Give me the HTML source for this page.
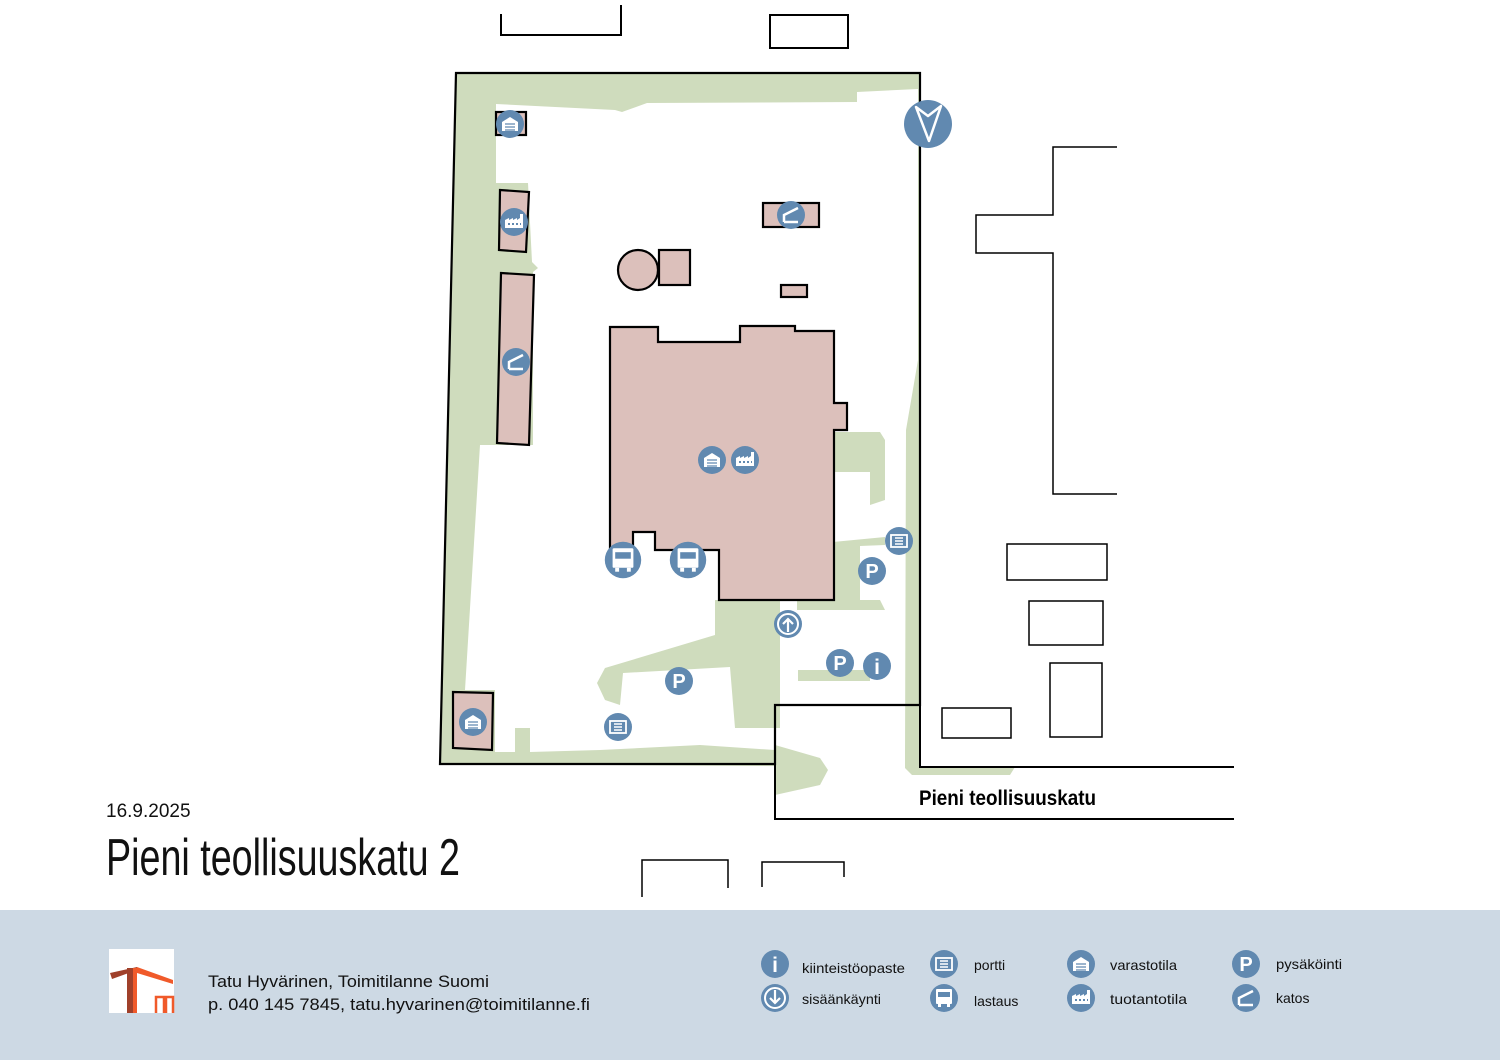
<!DOCTYPE html>
<html><head><meta charset="utf-8"><style>
html,body{margin:0;padding:0;background:#fff}
svg{display:block}
text{font-family:"Liberation Sans",sans-serif}
</style></head><body>
<svg width="1500" height="1060" viewBox="0 0 1500 1060" xmlns="http://www.w3.org/2000/svg">
<defs>
<g id="ic-p"><circle r="14" fill="#6189b0"/><text x="0" y="7" font-size="20" font-weight="bold" fill="#fff" text-anchor="middle">P</text></g>
<g id="ic-i"><circle r="14" fill="#6189b0"/><text x="0" y="8" font-size="21" font-weight="bold" fill="#fff" text-anchor="middle" font-family="Liberation Serif">i</text></g>
<g id="ic-st"><circle r="14" fill="#6189b0"/><path d="M-8,7 V-2 L0,-7 L8,-2 V7 Z" fill="#fff"/><path d="M-5,0 H5 M-5,3 H5 M-5,6 H5" stroke="#6189b0" stroke-width="1.3"/></g>
<g id="ic-fa"><circle r="14" fill="#6189b0"/><path d="M-9,6 V-2 L-5,-4 V-2 L-1,-4 V-2 L3,-4 V-2 L6,-4 V-8 H9 V6 Z" fill="#fff"/><path d="M-6,2 h2 M-2,2 h2 M2,2 h2 M6,2 h1" stroke="#6189b0" stroke-width="2"/></g>
<g id="ic-ka"><circle r="14" fill="#6189b0"/><path d="M-7,7 V0 L7,-7 M-7,7 H7" stroke="#fff" stroke-width="2.5" fill="none"/></g>
<g id="ic-ga"><circle r="14" fill="#6189b0"/><rect x="-8" y="-6" width="16" height="12" fill="none" stroke="#fff" stroke-width="1.8"/><path d="M-4,-3 H4 M-4,0 H4 M-4,3 H4" stroke="#fff" stroke-width="1.5"/></g>
<g id="ic-tr"><circle r="14" fill="#6189b0"/><rect x="-8" y="-9" width="16" height="15" rx="1" fill="#fff"/><rect x="-6" y="-6" width="12" height="5" fill="#6189b0"/><rect x="-6" y="6" width="3" height="3" fill="#fff"/><rect x="3" y="6" width="3" height="3" fill="#fff"/></g>
<g id="ic-en"><circle r="14" fill="#6189b0"/><circle r="10" fill="none" stroke="#fff" stroke-width="2"/><path d="M0,8 V-5 M-5,0 L0,-5 L5,0" stroke="#fff" stroke-width="2.2" fill="none"/></g>
<g id="ic-en2"><circle r="14" fill="#6189b0"/><circle r="10" fill="none" stroke="#fff" stroke-width="2"/><path d="M0,-8 V5 M-5,0 L0,5 L5,0" stroke="#fff" stroke-width="2.2" fill="none"/></g>
</defs>

<polygon points="456,73 920,73 920,767 440,764" fill="#cfdcbd"/>
<polygon points="496,104 615,110 622,112 647,103 857,102 857,92 918,89 918,360 906,430 905,760 912,767 775,767 775,750 700,745 600,750 530,752 530,728 515,728 515,752 495,752 495,690 465,690 480,445 533,445 533,272 538,268 532,262 528,183 496,183" fill="#fff"/>
<polygon points="835,432 880,432 885,440 885,500 870,505 870,472 835,472" fill="#cfdcbd"/>
<polygon points="833,542 885,537 885,545 860,546 860,600 880,600 885,610 797,610 797,600 833,600" fill="#cfdcbd"/>
<polygon points="715,600 780,600 780,728 735,728 730,667 623,673 620,705 605,700 597,683 605,668 715,635" fill="#cfdcbd"/>
<rect x="798" y="670" width="72" height="11" fill="#cfdcbd"/>
<polygon points="775,745 820,758 828,770 820,785 775,795" fill="#cfdcbd"/>
<polygon points="905,750 920,767 1015,767 1010,775 912,775 905,768" fill="#cfdcbd"/>

<polyline points="775,705 920,705" fill="none" stroke="#000" stroke-width="2"/>
<polygon points="456,73 920,73 920,705 775,705 775,764 440,764" fill="none" stroke="#000" stroke-width="2.2"/>
<g fill="none" stroke="#000" stroke-width="2">
<polyline points="920,705 920,767 1234,767"/>
<polyline points="775,764 775,819 1234,819"/>
<polyline points="501,14 501,35 621,35 621,5"/>
<rect x="770" y="15" width="78" height="33"/>
<polyline points="1117,147 1053,147 1053,215 976,215 976,253 1053,253 1053,494 1117,494" stroke-width="1.5"/>
<rect x="1007" y="544" width="100" height="36" stroke-width="1.5"/>
<rect x="1029" y="601" width="74" height="44" stroke-width="1.5"/>
<rect x="1050" y="663" width="52" height="74" stroke-width="1.5"/>
<rect x="942" y="708" width="69" height="30" stroke-width="1.5"/>
<polyline points="642,897 642,860 728,860 728,888" stroke-width="1.5"/>
<polyline points="762,887 762,862 844,862 844,877" stroke-width="1.5"/>
</g>

<g fill="#dcc0bb" stroke="#000" stroke-width="2.2">
<rect x="496" y="112" width="30" height="23"/>
<polygon points="500,190 529,192 526,252 499,250"/>
<polygon points="501,273 534,275 529,445 497,443"/>
<polygon points="453,692 493,693 492,750 453,748"/>
<rect x="763" y="203" width="56" height="24"/>
<circle cx="638" cy="270" r="20"/>
<rect x="659" y="250" width="31" height="35"/>
<rect x="781" y="285" width="26" height="12"/>
<polygon points="610,327 658,327 658,342 740,342 740,326 795,326 795,331 834,331 834,403 847,403 847,430 834,430 834,600 719,600 719,550 655,550 655,532 633,532 633,548 610,548"/>
</g>

<use href="#ic-st" x="510" y="124"/>
<use href="#ic-fa" x="514" y="222"/>
<use href="#ic-ka" x="516" y="362"/>
<use href="#ic-st" x="473" y="722"/>
<use href="#ic-ka" x="791" y="215"/>
<use href="#ic-st" x="712" y="460"/>
<use href="#ic-fa" x="745" y="460"/>
<g transform="translate(623,560) scale(1.3)"><use href="#ic-tr"/></g>
<g transform="translate(688,560) scale(1.3)"><use href="#ic-tr"/></g>
<use href="#ic-ga" x="899" y="541"/>
<use href="#ic-p" x="872" y="571"/>
<use href="#ic-en" x="788" y="624"/>
<use href="#ic-p" x="840" y="663"/>
<use href="#ic-i" x="877" y="666"/>
<use href="#ic-p" x="679" y="681"/>
<use href="#ic-ga" x="618" y="727"/>
<circle cx="928" cy="124" r="24" fill="#6189b0"/>
<path d="M916,107 L928,116 L941,106 L929,141 Z" fill="none" stroke="#fff" stroke-width="2.5" stroke-linejoin="round"/>

<text x="919" y="805" font-size="21" font-weight="bold" textLength="177" lengthAdjust="spacingAndGlyphs">Pieni teollisuuskatu</text>
<text x="106" y="817" font-size="19" fill="#111">16.9.2025</text>
<text x="106" y="875" font-size="52" fill="#111" font-family="Liberation Sans Narrow, Liberation Sans, sans-serif" textLength="354" lengthAdjust="spacingAndGlyphs">Pieni teollisuuskatu 2</text>

<rect x="0" y="910" width="1500" height="150" fill="#cdd9e4"/>
<rect x="109" y="949" width="65" height="64" fill="#fff"/>
<path d="M110,973 L137,967 L137,970 L112,979 Z" fill="#a0402a"/>
<rect x="127" y="968" width="6" height="45" fill="#a0402a"/>
<rect x="133" y="968" width="4" height="45" fill="#f05a2a"/>
<path d="M137,967 L173,980 L173,984 L137,973 Z" fill="#f05a2a"/>
<path d="M156,1013 V997 H164 V1013 M166,1013 V997 H173 V1013" fill="none" stroke="#f05a2a" stroke-width="2.5"/>
<text x="208" y="987" font-size="17" fill="#111" textLength="281" lengthAdjust="spacingAndGlyphs">Tatu Hyvärinen, Toimitilanne Suomi</text>
<text x="208" y="1010" font-size="17" fill="#111" textLength="382" lengthAdjust="spacingAndGlyphs">p. 040 145 7845, tatu.hyvarinen@toimitilanne.fi</text>

<g font-size="14" fill="#111">
<use href="#ic-i" x="775" y="964"/><text x="802" y="973" textLength="103" lengthAdjust="spacingAndGlyphs">kiinteistöopaste</text>
<use href="#ic-en2" x="775" y="998"/><text x="802" y="1004" textLength="79" lengthAdjust="spacingAndGlyphs">sisäänkäynti</text>
<use href="#ic-ga" x="944" y="964"/><text x="974" y="970">portti</text>
<use href="#ic-tr" x="944" y="998"/><text x="974" y="1006">lastaus</text>
<use href="#ic-st" x="1081" y="964"/><text x="1110" y="970" textLength="67" lengthAdjust="spacingAndGlyphs">varastotila</text>
<use href="#ic-fa" x="1081" y="998"/><text x="1110" y="1004" textLength="77" lengthAdjust="spacingAndGlyphs">tuotantotila</text>
<use href="#ic-p" x="1246" y="964"/><text x="1276" y="969" textLength="66" lengthAdjust="spacingAndGlyphs">pysäköinti</text>
<use href="#ic-ka" x="1246" y="998"/><text x="1276" y="1003">katos</text>
</g>
</svg>
</body></html>
